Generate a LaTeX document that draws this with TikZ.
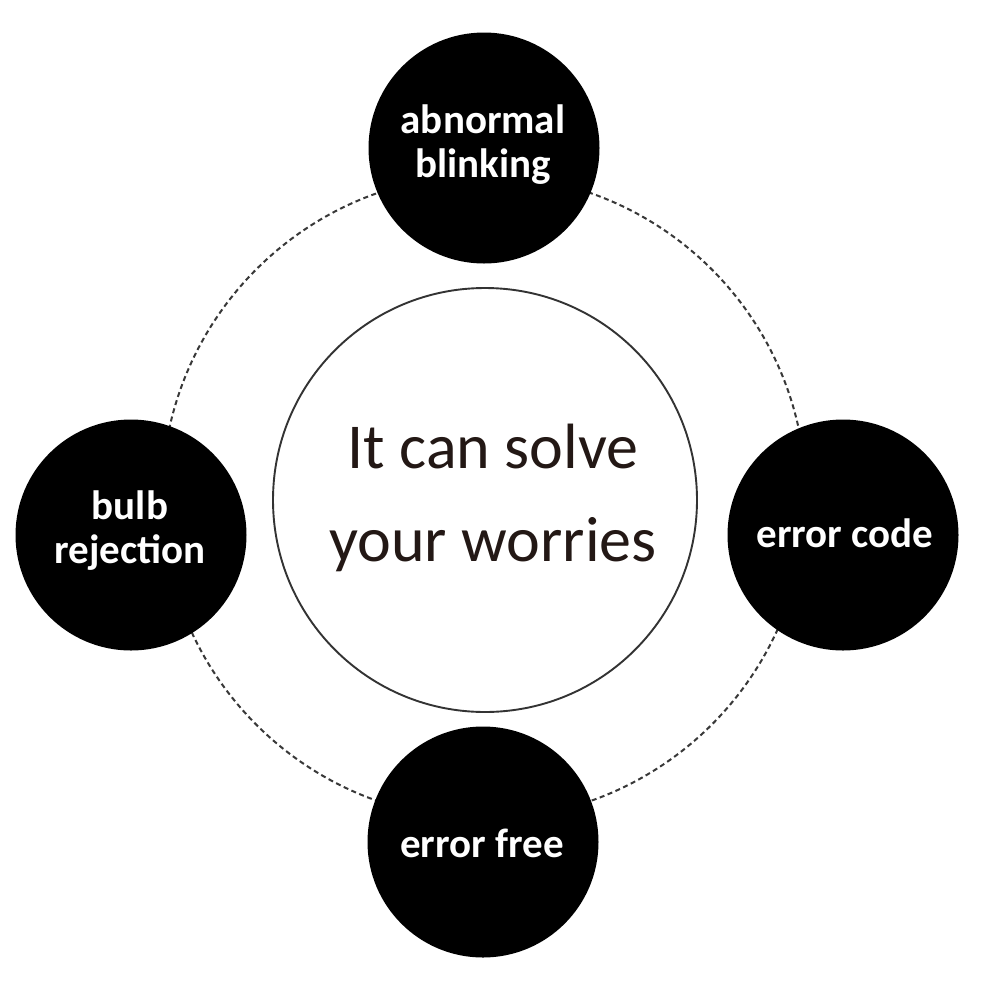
\documentclass[tikz,border=0pt]{standalone}
\usepackage{fontspec}
\setmainfont{Carlito}
\definecolor{ink}{HTML}{231815}
\begin{document}
\begin{tikzpicture}[x=1pt,y=-1pt,
  blob/.style={circle,fill=black,minimum size=231pt,inner sep=0pt},
  blobtext/.style={text=white,font=\bfseries\fontsize{41}{44}\selectfont,align=center,inner sep=0pt},
  ring/.style={draw=black!78,line width=2pt,dash pattern=on 5pt off 3.5pt},
  hub/.style={circle,draw=black!80,line width=1.9pt,minimum size=424pt,inner sep=0pt},
  hubtext/.style={text=ink,font=\fontsize{64}{93}\selectfont,align=center,inner sep=0pt}]
\useasboundingbox (0,0) rectangle (1002,1002);
\fill[white] (0,0) rectangle (1002,1002);
\coordinate (ringc) at (484,497);
\draw[ring] (ringc) circle[radius=322];
\node[hub] (hub) at (485,500) {};
\node[hubtext] (hubtxt) at (493,497.5) {It can solve\\your worries};
\node[blob] (top) at (484,148) {};
\node[blobtext] (toptxt) at (483,144.5) {abnormal\\blinking};
\node[blob] (left) at (131,535) {};
\node[blobtext] (lefttxt) at (130,530.5) {bulb\\rejection};
\node[blob] (right) at (843,535) {};
\node[blobtext,anchor=base] (righttxt) at (845,547) {error code};
\node[blob] (bottom) at (483,842) {};
\node[blobtext,anchor=base] (bottomtxt) at (482,857) {error free};
\end{tikzpicture}
\end{document}
